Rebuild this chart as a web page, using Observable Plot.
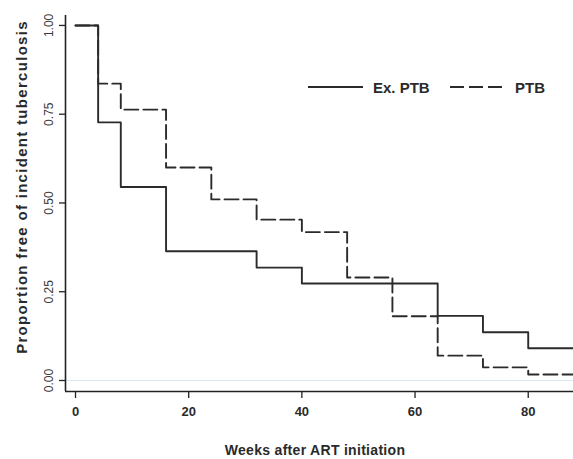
<!DOCTYPE html>
<html>
<head>
<meta charset="utf-8">
<script src="https://cdn.jsdelivr.net/npm/d3@7"></script>
<script src="https://cdn.jsdelivr.net/npm/@observablehq/plot@0.6"></script>
<style>
  html, body { margin: 0; padding: 0; background: #fff; }
  #wrap { position: relative; width: 573px; height: 459px; overflow: hidden; }
  #legend { position: absolute; left: 300px; top: 76px; }
</style>
</head>
<body>
<div id="wrap"></div>
<script>
// Kaplan–Meier step data (value holds from week until the next week)
const exWeeks = [0, 4, 8, 16, 32, 40, 64, 72, 80, 92];
const exSurv  = [1, 0.727, 0.545, 0.364, 0.318, 0.273, 0.182, 0.136, 0.091, 0.091];
const ptbWeeks = [0, 4, 8, 16, 24, 32, 40, 48, 56, 64, 72, 80, 92];
const ptbSurv  = [1, 0.836, 0.763, 0.600, 0.510, 0.453, 0.418, 0.290, 0.181, 0.070, 0.037, 0.017, 0.017];
const xTicks = [0, 20, 40, 60, 80];
const yTicks = [0, 0.25, 0.5, 0.75, 1];
const seriesNames = ["Ex. PTB", "PTB"];

const rows = [
  ...exWeeks.map((w, i) => ({week: w, surv: exSurv[i], group: seriesNames[0]})),
  ...ptbWeeks.map((w, i) => ({week: w, surv: ptbSurv[i], group: seriesNames[1]}))
];

const xDom = [-1.77, 88];
const yDom = [-0.031, 1.028];
const ink = "#2b2b2b";

const chart = Plot.plot({
  width: 573,
  height: 459,
  marginLeft: 65,
  marginRight: 0,
  marginTop: 15,
  marginBottom: 68,
  style: {fontFamily: "'Liberation Sans', Arial, sans-serif", background: "#fff", overflow: "hidden"},
  x: {domain: xDom},
  y: {domain: yDom},
  marks: [
    Plot.ruleY([0], {stroke: "#d5e9ee", strokeWidth: 1.2}),
    Plot.line(rows.filter(d => d.group === "Ex. PTB"), {
      x: "week", y: "surv", curve: "step-after", stroke: ink, strokeWidth: 1.9, clip: true
    }),
    Plot.line(rows.filter(d => d.group === "PTB"), {
      x: "week", y: "surv", curve: "step-after", stroke: ink, strokeWidth: 1.9,
      strokeDasharray: "14,5", clip: true
    }),
    // axis lines
    Plot.ruleX([xDom[0]], {y1: yDom[0], y2: yDom[1], stroke: "#222", strokeWidth: 1.6}),
    Plot.ruleY([yDom[0]], {x1: xDom[0], x2: xDom[1], stroke: "#222", strokeWidth: 1.6}),
    Plot.axisX({
      ticks: xTicks, tickSize: 7, tickPadding: 8, stroke: "#222", strokeWidth: 1.3,
      fontSize: 13, fontWeight: "bold", fill: "#2a2a2a", label: null
    }),
    Plot.axisY({
      ticks: yTicks, tickSize: 6, tickFormat: () => "", stroke: "#222", strokeWidth: 1.3, label: null
    }),
    Plot.text(yTicks, {
      x: xDom[0], y: d => d, text: d3.format(".2f"), rotate: -90, dx: -16,
      textAnchor: "middle", fontSize: 12, fill: "#3a3a3a"
    })
  ]
});

document.getElementById("wrap").appendChild(chart);

// axis titles (outside the plotting area)
const svg = d3.select(chart);
svg.append("text")
  .attr("transform", "translate(27,187) rotate(-90)")
  .attr("text-anchor", "middle")
  .attr("font-size", 15).attr("font-weight", "bold")
  .attr("letter-spacing", 1.3)
  .attr("fill", "#2a2a2a")
  .text("Proportion free of incident tuberculosis");
svg.append("text")
  .attr("x", 315).attr("y", 455)
  .attr("text-anchor", "middle")
  .attr("font-size", 14).attr("font-weight", "bold")
  .attr("letter-spacing", 0.3)
  .attr("fill", "#2a2a2a")
  .text("Weeks after ART initiation");

// legend
const leg = d3.select("#wrap").append("svg").attr("id", "legend")
  .attr("width", 260).attr("height", 24)
  .style("font-family", "'Liberation Sans', Arial, sans-serif");
const items = [
  {name: seriesNames[0], dash: null, x: 8},
  {name: seriesNames[1], dash: "14,5", x: 150}
];
items.forEach(it => {
  leg.append("line").attr("x1", it.x).attr("x2", it.x + 55).attr("y1", 11).attr("y2", 11)
    .attr("stroke", ink).attr("stroke-width", 2).attr("stroke-dasharray", it.dash);
  leg.append("text").attr("x", it.x + 65).attr("y", 16.5)
    .attr("font-size", 15).attr("font-weight", "bold").attr("fill", "#2a2a2a")
    .text(it.name);
});
</script>
</body>
</html>
